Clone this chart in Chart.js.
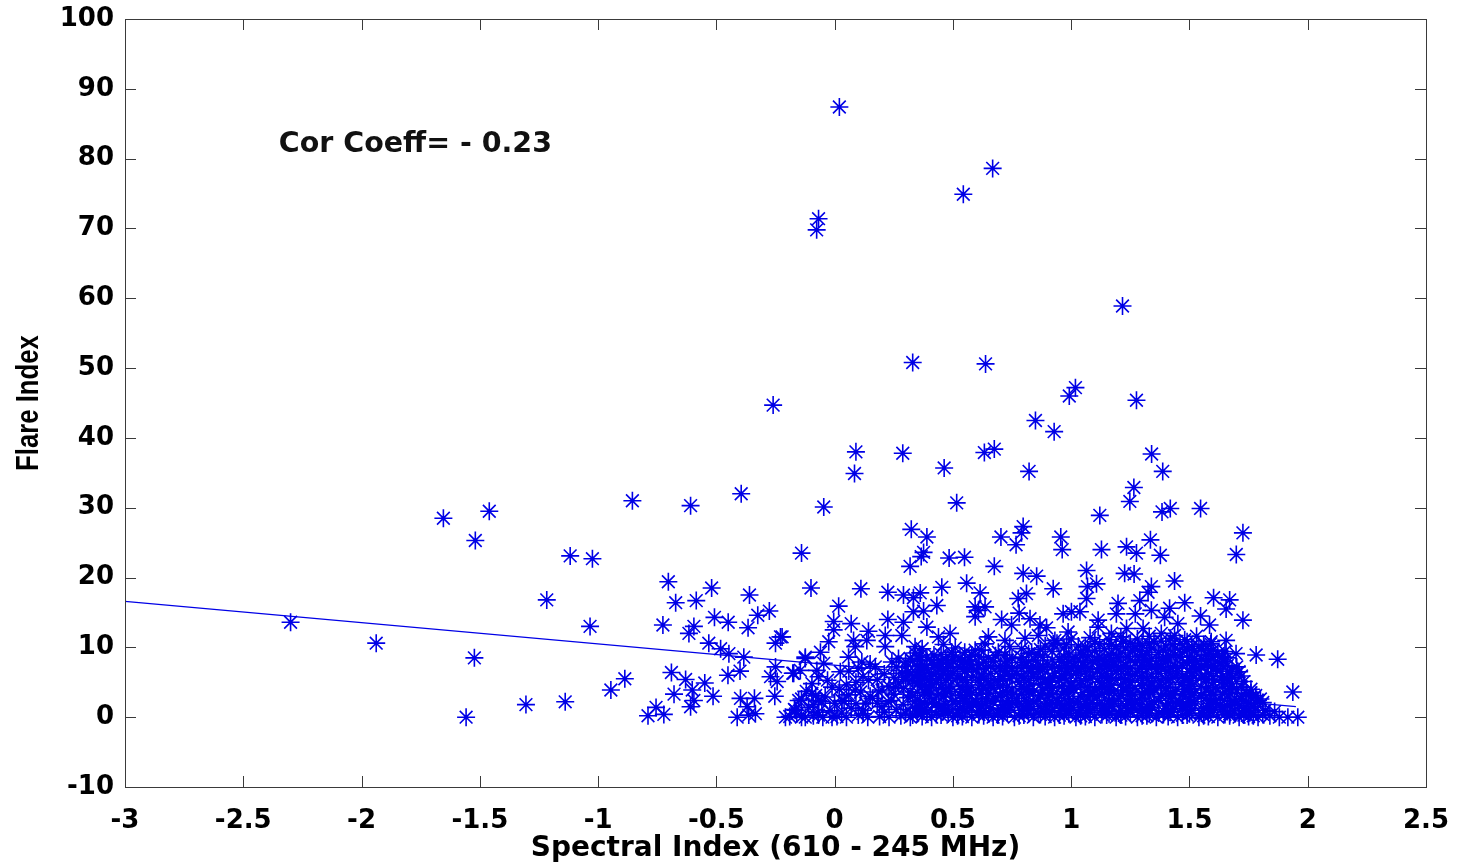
<!DOCTYPE html>
<html>
<head>
<meta charset="utf-8">
<script src="https://cdn.jsdelivr.net/npm/chart.js@4.4.1/dist/chart.umd.min.js"></script>
<style>
  html, body { margin: 0; padding: 0; background: #fff; }
  #wrap { width: 1457px; height: 863px; }
</style>
</head>
<body>
<div id="wrap"><canvas id="chart" width="1457" height="863"></canvas></div>
<script>
// axis ranges and labels
const xRange = [-3, 2.5];
const yRange = [-10, 100];
const xTitle = 'Spectral Index (610 - 245 MHz)';
const yTitle = 'Flare Index';
const corrNote = 'Cor Coeff= - 0.23';
const corrNoteAt = [-2.35, 81];

// least squares line, end points
const fitLine = [[-3, 16.6], [1.95, 1.5]];

// flares with index above ~20
const strongFlares = [
  [0.02,87.4],[0.668,78.6],[0.544,74.9],[-0.068,71.4],[-0.076,69.8],[1.217,58.9],[0.33,50.8],[0.638,50.6],
  [1.018,47.2],[0.992,46.0],[1.276,45.4],[-0.26,44.7],[0.849,42.5],[0.928,40.9],[0.09,38.0],[0.288,37.8],
  [0.633,37.9],[0.675,38.4],[1.34,37.7],[0.463,35.7],[0.822,35.2],[0.084,34.9],[1.387,35.2],[1.265,32.9],
  [1.248,30.9],[-0.855,31.0],[-0.609,30.3],[-0.395,32.0],[-0.046,30.1],[0.516,30.7],[1.121,28.9],[1.384,29.4],
  [1.419,29.9],[1.547,29.9],[1.726,26.4],[1.698,23.3],[-1.654,28.5],[-1.46,29.5],[-1.519,25.3],[-1.118,23.1],
  [-1.024,22.7],[-0.14,23.5],[0.324,26.9],[0.39,25.8],[0.376,23.6],[0.366,23.0],[0.484,22.8],[0.549,22.9],
  [0.797,27.3],[0.79,26.4],[0.703,25.8],[0.767,24.7],[0.956,25.8],[0.962,24.0],[1.128,24.0],[1.234,24.4],
  [1.276,23.5],[1.335,25.4],[1.377,23.2],[0.319,21.6],[0.675,21.6],[0.797,20.6],[0.854,20.2],[1.065,21.0],
  [1.226,20.6],[1.266,20.5]
];

// flares with index ~8 to ~20
const moderateFlares = [
  [-2.30,13.6],[-1.938,10.6],[-1.523,8.5],[-1.217,16.8],[-1.034,13.0],
  [-0.703,19.4],[-0.672,16.4],[-0.585,16.7],[-0.52,18.5],[-0.36,17.5],[-0.1,18.5],[-0.726,13.2],[-0.595,13.0],
  [-0.616,12.0],[-0.508,14.3],[-0.45,13.6],[-0.366,12.8],[-0.325,14.6],[-0.276,15.2],[-0.229,11.5],[-0.25,10.6],
  [-0.532,10.6],[-0.482,9.8],[-0.447,9.1],[-0.384,8.6],[-0.222,11.5],[-0.025,10.8],[-0.06,9.3],[-0.124,8.6],
  [0.111,18.4],[0.017,15.9],[-0.004,13.7],[-0.004,12.5],[0.07,13.4],[0.143,12.3],[0.225,17.9],[0.291,17.5],
  [0.333,17.1],[0.362,17.8],[0.453,18.6],[0.558,19.2],[0.615,17.8],[0.924,18.4],[0.811,17.7],[0.776,17.0],
  [0.594,15.8],[0.608,15.3],[0.636,15.8],[0.594,14.4],[0.432,16.0],[0.376,15.2],[0.333,15.1],[0.225,14.0],
  [0.291,13.6],[0.39,12.9],[0.439,11.5],[0.488,12.0],[0.65,11.5],[0.706,14.0],[0.748,13.2],[0.78,14.9],
  [0.826,14.1],[0.868,13.2],[0.805,11.3],[0.861,11.7],[0.896,12.8],[0.08,11.0],[0.136,11.0],[0.214,11.7],
  [0.214,10.1],[0.087,10.1],[0.284,11.7],[0.34,10.1],[0.059,8.6],[0.115,7.9],[0.172,7.2],[0.242,7.9],
  [0.72,11.0],[0.924,10.5],[0.594,9.6],[0.636,10.5],[0.495,9.3],[0.692,9.3],[0.833,9.3],
  [1.67,16.8],[1.655,15.5],[1.602,17.1],[1.547,14.5],[1.585,13.2],[1.48,16.4],[1.437,19.5],[1.726,13.9],
  [1.107,19.1],[1.069,18.7],[1.065,17.0],[1.339,18.7],[1.325,17.9],[1.29,16.7],[1.198,16.3],[1.191,14.8],
  [1.271,14.8],[1.339,15.3],[1.416,15.6],[1.395,14.3],[1.451,13.4],[0.966,14.8],[1.001,15.1],[1.037,15.1],
  [1.114,13.9],[0.987,12.2],[1.114,12.9],[1.17,12.0],[1.234,12.7],[1.304,12.7],[1.381,12.0],[1.437,11.7],
  [1.592,10.8],[1.655,11.0],[1.697,9.1],[0.931,11.0],[1.782,8.9],[1.873,8.3]
];

// weak flares left of zero
const weakFlaresLeft = [
  [-1.558,0],[-1.305,1.8],[-1.139,2.2],[-0.946,3.9],[-0.887,5.5],
  [-0.69,6.4],[-0.63,5.4],[-0.549,4.9],[-0.451,6.0],[-0.4,6.6],[-0.679,3.3],[-0.602,3.9],[-0.595,2.4],
  [-0.514,3.0],[-0.609,1.5],[-0.755,1.4],[-0.789,0.2],[-0.722,0.4],[-0.398,2.7],[-0.339,2.7],[-0.412,0],
  [-0.363,0.3],[-0.335,0.5],[-0.37,1.5],[-0.253,3.0],[-0.271,5.8],[-0.243,5.1],[-0.25,7.2],[-0.177,6.3],
  [-0.145,6.7],[-0.124,8.4],[-0.075,6.7],[-0.046,7.7],[-0.096,4.8],[-0.068,2.4],[-0.208,0],[-0.166,1.0],
  [-0.124,0],[-0.068,0.3],[-0.011,0],[-0.173,6.3],[-0.068,5.8],[-0.096,3.4],[-0.011,4.3],[-0.152,2.4],
  [-0.054,2.2]
];

// weak flares, the crowded band between 0 and 2
const weakFlaresCore = [
  [0.024,6.5],[0.284,6.3],[0.143,5.3],[0.087,3.9],[0.186,3.6],[0.256,4.3],[0.319,3.6],[0.031,2.4],[0.13,2.0],[0.228,2.2],
  [-0.19,0.1],[-0.14,0],[-0.09,0.2],[-0.05,0],[0.01,0.1],[0.05,0],[0.1,0.3],[0.14,0],[0.19,0.1],[0.23,0],
  [0.28,0.2],[0.32,0],[0.37,0.1],[0.41,0],[0.45,0.3],[0.5,0],[0.54,0.1],[0.58,0],[0.63,0.2],[0.67,0],
  [0.71,0.1],[0.76,0],[0.8,0.3],[0.84,0],[0.89,0.1],[0.93,0],[0.97,0.2],[1.02,0],[1.06,0.1],[1.1,0],
  [1.15,0.3],[1.19,0],[1.23,0.1],[1.28,0],[1.32,0.2],[1.36,0],[1.41,0.1],[1.45,0],[1.49,0.3],[1.54,0],
  [1.58,0.1],[1.62,0],[1.67,0.2],[1.71,0],[1.75,0.1],[1.79,0],[1.84,0.2],[1.88,0],[1.916,0],[1.958,0],
  [0.33,0.3],[0.43,0.4],[0.52,0.2],[0.61,0.4],[0.69,0.3],[0.78,0.2],[0.87,0.4],[0.95,0.3],[1.04,0.2],[1.13,0.4],
  [1.21,0.3],[1.3,0.2],[1.39,0.4],[1.47,0.3],[1.56,0.2],[1.65,0.4],[1.73,0.3],[1.77,0.2],
  [-0.16,0.5],[-0.07,0.7],[0.03,0.6],[0.12,0.5],[0.21,0.7],[0.3,0.6],[0.35,0.5],[0.39,0.7],[0.48,0.5],[0.56,0.7],
  [0.65,0.5],[0.73,0.7],[0.82,0.5],[0.91,0.7],[0.99,0.5],[1.08,0.7],[1.16,0.5],[1.25,0.7],[1.33,0.5],[1.42,0.7],
  [1.5,0.5],[1.59,0.7],[1.67,0.5],[1.76,0.7],[1.81,0.4],
  [0.37,0.9],[0.46,0.8],[0.55,1.0],[0.63,0.8],[0.72,0.9],[0.81,1.0],[0.89,0.8],[0.98,0.9],[1.07,1.0],[1.15,0.8],
  [1.24,0.9],[1.32,1.0],[1.41,0.8],[1.49,0.9],[1.58,1.0],[1.66,0.8],[1.74,0.9],
  [-0.17,1.1],[-0.11,1.4],[-0.02,0.9],[0.07,1.3],[0.12,1.0],[0.2,1.5],[0.26,1.1],[0.34,1.3],[0.39,0.9],[0.44,1.4],
  [0.48,1.1],[0.53,1.2],[0.57,1.5],[0.61,0.9],[0.66,1.3],[0.7,1.1],[0.74,1.4],[0.79,1.0],[0.83,1.2],[0.87,1.5],
  [0.91,0.9],[0.96,1.3],[1.0,1.1],[1.04,1.4],[1.08,0.9],[1.13,1.2],[1.17,1.5],[1.21,1.0],[1.26,1.3],[1.3,1.1],
  [1.34,1.4],[1.39,0.9],[1.43,1.2],[1.47,1.5],[1.51,1.0],[1.56,1.3],[1.6,1.1],[1.64,1.4],[1.69,0.9],[1.73,1.2],
  [1.77,1.5],[1.82,1.0],[1.86,0.8],[1.937,3.6],
  [0.36,1.6],[0.45,1.7],[0.54,1.5],[0.62,1.6],[0.71,1.7],[0.8,1.5],[0.89,1.6],[0.97,1.7],[1.06,1.5],[1.14,1.6],
  [1.23,1.7],[1.32,1.5],[1.4,1.6],[1.49,1.7],[1.58,1.5],[1.66,1.6],[1.71,1.7],
  [-0.09,1.8],[0.0,2.0],[0.09,1.9],[0.18,2.0],[0.29,1.8],[0.38,2.0],[0.47,1.8],[0.55,2.0],[0.64,1.9],[0.73,1.8],
  [0.82,2.0],[0.9,1.9],[0.99,2.0],[1.07,1.8],[1.16,2.0],[1.24,1.9],[1.33,1.8],[1.41,2.0],[1.5,1.9],[1.59,2.0],
  [1.67,1.8],[1.75,1.9],[1.79,2.4],
  [0.34,2.2],[0.41,2.1],[0.5,2.2],[0.58,2.1],[0.67,2.2],[0.75,2.1],[0.84,2.2],[0.92,2.1],[1.01,2.2],[1.09,2.1],
  [1.18,2.2],[1.27,2.1],[1.35,2.2],[1.44,2.1],[1.52,2.2],[1.61,2.1],[1.69,2.2],[1.78,2.0],
  [-0.14,2.6],[-0.04,2.9],[0.04,2.3],[0.16,2.7],[0.24,2.4],[0.31,2.8],[0.36,2.3],[0.42,2.6],[0.46,2.9],[0.51,2.4],
  [0.55,2.7],[0.6,2.2],[0.64,2.6],[0.68,2.9],[0.73,2.4],[0.77,2.7],[0.81,2.3],[0.86,2.6],[0.9,2.9],[0.94,2.4],
  [0.99,2.7],[1.03,2.2],[1.07,2.6],[1.11,2.9],[1.16,2.4],[1.2,2.7],[1.24,2.3],[1.29,2.6],[1.33,2.9],[1.37,2.4],
  [1.42,2.7],[1.46,2.2],[1.5,2.6],[1.55,2.9],[1.59,2.4],[1.63,2.7],[1.68,2.3],[1.72,2.6],[1.76,2.9],[1.81,2.1],
  [-0.08,3.1],[0.06,3.2],[0.15,3.0],[0.25,3.3],[0.33,3.1],[0.44,3.3],[0.53,3.1],[0.61,3.3],[0.7,3.0],[0.79,3.3],
  [0.87,3.1],[0.96,3.3],[1.04,3.0],[1.13,3.3],[1.21,3.1],[1.3,3.3],[1.38,3.0],[1.47,3.3],[1.55,3.1],[1.64,3.3],
  [1.72,3.0],[1.8,2.6],
  [0.38,3.5],[0.47,3.4],[0.56,3.6],[0.65,3.4],[0.73,3.5],[0.82,3.6],[0.91,3.4],[0.99,3.5],[1.08,3.6],[1.16,3.4],
  [1.25,3.5],[1.33,3.6],[1.42,3.4],[1.5,3.5],[1.59,3.6],[1.67,3.4],[1.76,3.5],
  [-0.12,3.7],[0.02,4.0],[0.11,3.6],[0.2,3.9],[0.29,4.1],[0.35,3.6],[0.4,3.9],[0.45,4.2],[0.49,3.7],[0.54,4.0],
  [0.58,3.5],[0.62,3.9],[0.67,4.2],[0.71,3.6],[0.75,3.9],[0.8,4.1],[0.84,3.6],[0.88,3.9],[0.92,4.2],[0.97,3.7],
  [1.01,4.0],[1.05,3.5],[1.1,3.9],[1.14,4.2],[1.18,3.6],[1.22,3.9],[1.27,4.1],[1.31,3.6],[1.35,3.9],[1.4,4.2],
  [1.44,3.7],[1.48,4.0],[1.52,3.5],[1.57,3.9],[1.61,4.2],[1.65,3.6],[1.7,3.9],[1.74,3.4],[1.78,3.1],
  [0.39,4.3],[0.47,4.1],[0.56,4.3],[0.64,4.1],[0.73,4.3],[0.81,4.0],[0.9,4.3],[0.99,4.1],[1.07,4.3],[1.16,4.0],
  [1.24,4.3],[1.33,4.1],[1.41,4.3],[1.5,4.1],[1.58,4.3],[1.67,4.1],
  [0.05,4.6],[0.23,4.4],[0.37,4.5],[0.41,4.7],[0.53,4.4],[0.62,4.6],[0.7,4.5],[0.79,4.4],[0.87,4.7],[0.96,4.4],
  [1.04,4.6],[1.13,4.4],[1.21,4.6],[1.3,4.5],[1.38,4.4],[1.47,4.7],[1.55,4.4],[1.64,4.6],[1.72,4.3],[1.76,4.0],
  [-0.03,5.3],[0.09,5.0],[0.18,5.4],[0.27,4.9],[0.33,5.2],[0.38,5.5],[0.43,5.0],[0.47,5.3],[0.52,5.6],[0.56,5.0],
  [0.61,5.3],[0.65,4.9],[0.69,5.2],[0.74,5.5],[0.78,5.0],[0.82,5.3],[0.87,5.6],[0.91,5.0],[0.95,5.3],[1.0,4.9],
  [1.04,5.2],[1.08,5.5],[1.12,5.0],[1.17,5.3],[1.21,5.6],[1.25,5.0],[1.3,5.3],[1.34,4.9],[1.38,5.2],[1.42,5.5],
  [1.47,5.0],[1.51,5.3],[1.55,5.6],[1.6,5.0],[1.64,5.3],[1.68,4.8],[1.73,5.1],
  [0.36,5.6],[0.44,5.5],[0.54,5.4],[0.63,5.6],[0.71,5.5],[0.8,5.6],[0.89,5.4],[0.97,5.6],[1.06,5.5],[1.15,5.6],
  [1.23,5.4],[1.32,5.6],[1.4,5.5],[1.49,5.6],[1.57,5.4],[1.66,5.5],
  [0.3,5.4],[0.35,6.1],[0.4,5.3],[0.44,6.9],[0.48,5.6],[0.3,7.3],[0.33,8.0],[0.41,8.1],[0.48,7.7],[0.54,8.0],
  [0.27,8.4],[0.35,4.8],[0.31,5.9],
  [0.12,5.8],[0.25,5.7],[0.34,5.9],[0.41,5.8],[0.49,6.0],[0.58,5.7],[0.7,5.8],[0.75,6.0],[0.84,5.8],[0.92,5.7],
  [1.0,6.0],[1.09,5.8],[1.17,5.7],[1.26,6.0],[1.34,5.8],[1.43,5.7],[1.51,6.0],[1.6,5.8],[1.68,5.7],[1.72,5.9],
  [0.06,6.6],[0.21,6.2],[0.31,6.5],[0.36,6.8],[0.41,6.3],[0.46,6.6],[0.5,6.2],[0.55,6.5],[0.6,6.8],[0.66,6.3],
  [0.72,6.6],[0.77,6.2],[0.83,6.5],[0.88,6.8],[0.93,6.3],[0.98,6.6],[1.02,6.2],[1.06,6.5],[1.11,6.8],[1.15,6.3],
  [1.19,6.6],[1.24,6.2],[1.28,6.5],[1.32,6.8],[1.37,6.3],[1.41,6.6],[1.45,6.2],[1.5,6.5],[1.54,6.8],[1.58,6.3],
  [1.63,6.6],[1.67,6.2],[1.71,6.5],
  [0.38,6.9],[0.47,7.0],[0.56,6.9],[0.64,7.0],[0.7,6.9],[0.79,7.0],[0.86,6.9],[0.95,7.0],[1.03,6.9],[1.12,7.0],
  [1.2,6.9],[1.29,7.0],[1.36,6.9],[1.45,7.0],[1.53,6.9],[1.61,7.0],
  [0.1,7.0],[0.26,7.2],[0.39,7.1],[0.48,7.2],[0.58,7.0],[0.66,7.2],[0.75,7.1],[0.83,7.0],[0.92,7.2],[1.0,7.1],
  [1.08,7.0],[1.17,7.2],[1.25,7.0],[1.34,7.2],[1.42,7.1],[1.51,7.0],[1.59,7.2],[1.68,6.9],
  [0.35,7.3],[0.42,7.4],[0.52,7.3],[0.61,7.4],[0.73,7.3],[0.81,7.4],[0.88,7.3],[0.98,7.4],[1.06,7.3],[1.15,7.4],
  [1.22,7.3],[1.3,7.4],[1.38,7.3],[1.47,7.4],[1.55,7.3],[1.64,7.4],
  [0.15,7.6],[0.3,7.9],[0.37,7.5],[0.44,7.8],[0.5,8.1],[0.57,7.6],[0.63,7.9],[0.7,7.4],[0.79,7.8],[0.85,8.1],
  [0.9,7.6],[0.96,7.9],[1.01,7.4],[1.05,7.8],[1.09,8.1],[1.14,7.6],[1.18,7.9],[1.23,7.4],[1.27,7.8],[1.31,8.1],
  [1.36,7.6],[1.4,7.9],[1.44,7.4],[1.49,7.8],[1.53,8.1],[1.57,7.6],[1.62,7.9],[1.66,7.4],[1.7,7.2],
  [0.36,8.2],[0.45,8.1],[0.57,8.2],[0.67,8.0],[0.73,8.2],[0.82,8.0],[0.92,8.2],[0.99,8.0],[1.11,8.2],[1.17,8.0],
  [1.25,8.2],[1.33,8.0],[1.39,8.2],[1.51,8.0],[1.58,8.2],[1.64,8.0],
  [0.32,8.4],[0.39,8.6],[0.47,8.3],[0.53,8.5],[0.61,8.7],[0.75,8.4],[0.88,8.6],[0.95,8.3],[1.02,8.5],[1.07,8.7],
  [1.13,8.3],[1.2,8.5],[1.28,8.7],[1.34,8.4],[1.41,8.2],[1.46,8.6],[1.55,8.4],[1.6,8.7],[1.66,8.5],
  [0.36,8.8],[0.45,9.0],[0.5,8.7],[0.58,8.9],[0.65,8.5],[0.72,8.9],[0.79,8.6],[0.86,9.0],[0.97,8.7],[1.05,8.9],
  [1.12,8.6],[1.18,9.0],[1.24,8.7],[1.3,8.9],[1.39,8.6],[1.44,9.0],[1.5,8.7],[1.58,8.9],[1.64,8.6],
  [0.34,9.2],[0.42,8.9],[0.55,9.3],[0.68,8.8],[0.82,9.1],[0.92,9.4],[0.99,8.9],[1.04,9.2],[1.1,9.5],[1.16,8.9],
  [1.21,9.2],[1.26,9.6],[1.32,9.0],[1.37,9.3],[1.42,8.8],[1.47,9.2],[1.52,9.5],[1.57,8.9],[1.62,9.1],
  [0.37,9.8],[0.51,9.9],[0.62,9.6],[0.79,9.8],[0.87,9.7],[0.97,9.9],[1.07,9.6],[1.14,9.8],[1.23,9.9],[1.29,9.5],
  [1.34,9.9],[1.39,9.6],[1.44,9.9],[1.49,9.7],[1.55,9.8],[1.6,9.6],[1.65,9.4],
  [0.46,10.4],[0.74,10.1],[0.94,10.6],[1.03,10.2],[1.12,10.5],[1.19,10.1],[1.25,10.6],[1.3,10.3],[1.35,10.8],
  [1.4,10.2],[1.46,10.5],[1.51,10.1],[1.56,10.4],
  [0.89,10.2],[0.98,10.4],[1.06,10.1],[1.1,10.8],[1.17,10.4],[1.22,10.9],[1.27,10.1],[1.33,10.5],[1.38,10.9],
  [1.43,10.4],[1.49,10.8],[1.54,10.2],[1.59,10.5],
  [1.0,11.2],[1.08,11.4],[1.16,11.1],[1.21,11.5],[1.28,11.2],[1.33,11.6],[1.42,11.3],[1.48,11.1],[1.53,11.6],
  [0.43,1.9],[0.52,0.6],[0.6,1.8],[0.69,0.6],[0.78,1.9],[0.86,0.6],[0.95,1.8],[1.03,0.6],[1.12,1.9],[1.2,0.6],
  [1.29,1.8],[1.37,0.6],[1.46,1.9],[1.55,0.6],[1.63,1.8],[1.72,0.6],
  [0.4,3.2],[0.49,4.6],[0.57,3.2],[0.66,4.6],[0.75,3.2],[0.83,4.6],[0.92,3.2],[1.0,4.6],[1.09,3.2],[1.17,4.6],
  [1.26,3.2],[1.34,4.6],[1.43,3.2],[1.51,4.6],[1.6,3.2],[1.68,4.4],
  [0.45,5.9],[0.53,7.1],[0.62,5.9],[0.79,5.9],[0.87,7.1],[0.96,5.9],[1.04,7.1],[1.13,5.9],[1.21,7.1],[1.3,5.9],
  [1.38,7.1],[1.47,5.9],[1.55,7.1],[1.64,5.9]
];

const allFlares = [...strongFlares, ...moderateFlares, ...weakFlaresLeft, ...weakFlaresCore]
  .map(([x, y]) => ({ x, y }));

const tickFont = { family: '"DejaVu Sans", sans-serif', size: 26, weight: 'bold' };

// white page, box round the plot, inward ticks on all four sides, the texts
const matlabFrame = {
  id: 'matlabFrame',
  beforeDraw (chart) {
    const ctx = chart.ctx;
    ctx.save();
    ctx.fillStyle = '#fff';
    ctx.fillRect(0, 0, chart.width, chart.height);
    ctx.restore();
  },
  afterDraw (chart) {
    const { ctx, chartArea: a, scales: { x, y } } = chart;
    const len = 11;
    ctx.save();
    ctx.strokeStyle = '#3a3a3a';
    ctx.lineWidth = 1;
    ctx.strokeRect(a.left + 0.5, a.top + 0.5, a.right - a.left, a.bottom - a.top);
    ctx.beginPath();
    x.ticks.forEach(t => {
      const px = Math.round(x.getPixelForValue(t.value)) + 0.5;
      ctx.moveTo(px, a.bottom); ctx.lineTo(px, a.bottom - len);
      ctx.moveTo(px, a.top); ctx.lineTo(px, a.top + len);
    });
    y.ticks.forEach(t => {
      const py = Math.round(y.getPixelForValue(t.value)) + 0.5;
      ctx.moveTo(a.left, py); ctx.lineTo(a.left + len, py);
      ctx.moveTo(a.right, py); ctx.lineTo(a.right - len, py);
    });
    ctx.stroke();

    ctx.fillStyle = '#111';
    ctx.font = 'bold 28.5px "DejaVu Sans", sans-serif';
    ctx.textAlign = 'left';
    ctx.textBaseline = 'alphabetic';
    ctx.fillText(corrNote, x.getPixelForValue(corrNoteAt[0]), y.getPixelForValue(corrNoteAt[1]));

    // condensed y title
    ctx.fillStyle = '#000';
    ctx.translate(29, (a.top + a.bottom) / 2);
    ctx.rotate(-Math.PI / 2);
    ctx.scale(0.83, 1);
    ctx.font = 'bold 31px "Liberation Sans", Arial, sans-serif';
    ctx.textAlign = 'center';
    ctx.textBaseline = 'middle';
    ctx.fillText(yTitle, 0, 0);
    ctx.restore();
  }
};

new Chart(document.getElementById('chart'), {
  type: 'scatter',
  data: {
    datasets: [
      {
        type: 'line',
        data: fitLine.map(([x, y]) => ({ x, y })),
        borderColor: '#0000e6',
        borderWidth: 1.3,
        pointRadius: 0,
        fill: false,
        order: 0
      },
      {
        data: allFlares,
        pointStyle: 'star',
        pointRadius: 9,
        borderColor: '#0000e6',
        borderWidth: 1.6,
        backgroundColor: '#0000e6',
        order: 1
      }
    ]
  },
  options: {
    responsive: false,
    devicePixelRatio: 1,
    animation: false,
    layout: { padding: { left: 10, top: 19, right: 31, bottom: 0 } },
    plugins: { legend: { display: false }, tooltip: { enabled: false } },
    scales: {
      x: {
        type: 'linear',
        min: xRange[0],
        max: xRange[1],
        grid: { display: false, drawTicks: false },
        border: { display: false },
        ticks: {
          stepSize: 0.5,
          autoSkip: false,
          maxRotation: 0,
          padding: 19,
          color: '#000',
          font: tickFont,
          callback: (v) => String(Math.round(v * 10) / 10)
        },
        title: {
          display: true,
          text: xTitle,
          color: '#000',
          padding: 0,
          font: { family: '"DejaVu Sans", sans-serif', size: 28, weight: 'bold', lineHeight: 1 }
        },
        afterFit (scale) {
          scale.height = 76;
          scale.paddingLeft = 0;
          scale.paddingRight = 0;
        }
      },
      y: {
        type: 'linear',
        min: yRange[0],
        max: yRange[1],
        grid: { display: false, drawTicks: false },
        border: { display: false },
        ticks: { stepSize: 10, autoSkip: false, padding: 11, color: '#000', font: tickFont },
        title: { display: false },
        afterFit (scale) {
          scale.width = 115;
          scale.paddingTop = 0;
          scale.paddingBottom = 0;
        }
      }
    }
  },
  plugins: [matlabFrame]
});
</script>
</body>
</html>
